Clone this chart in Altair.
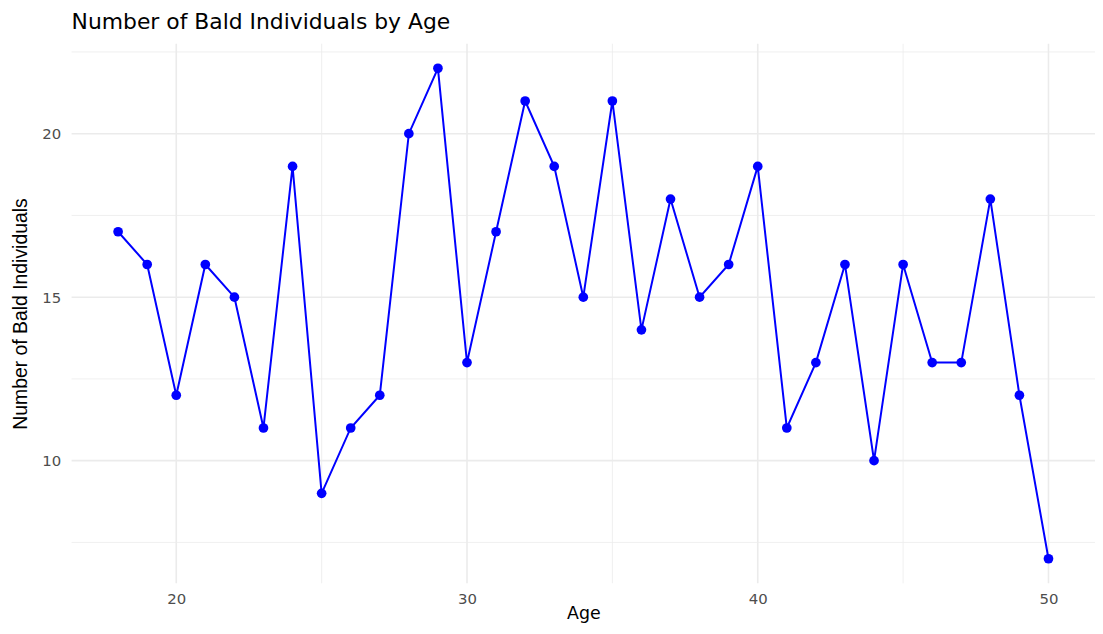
import altair as alt
import pandas as pd

ages = list(range(18, 51))
counts = [17, 16, 12, 16, 15, 11, 19, 9, 11, 12, 20, 22, 13, 17, 21, 19, 15,
          21, 14, 18, 15, 16, 19, 11, 13, 16, 10, 16, 13, 13, 18, 12, 7]

x_major = [20, 30, 40, 50]
x_minor = [25, 35, 45]
y_major = [10, 15, 20]
y_minor = [7.5, 12.5, 17.5, 22.5]

df = pd.DataFrame({"Age": ages, "Count": counts})

FONT = "Liberation Sans"
WFONT = "DejaVu Sans"
xs = alt.Scale(domain=[16.4, 51.6], nice=False, zero=False)
ys = alt.Scale(domain=[6.25, 22.75], nice=False, zero=False)

grid_x_minor = alt.Chart(pd.DataFrame({"v": x_minor})).mark_rule(color="#ebebeb", strokeWidth=0.8).encode(
    x=alt.X("v:Q", scale=xs))
grid_x_major = alt.Chart(pd.DataFrame({"v": x_major})).mark_rule(color="#ebebeb", strokeWidth=1.6).encode(
    x=alt.X("v:Q", scale=xs))
grid_y_minor = alt.Chart(pd.DataFrame({"v": y_minor})).mark_rule(color="#ebebeb", strokeWidth=0.8).encode(
    y=alt.Y("v:Q", scale=ys))
grid_y_major = alt.Chart(pd.DataFrame({"v": y_major})).mark_rule(color="#ebebeb", strokeWidth=1.6).encode(
    y=alt.Y("v:Q", scale=ys))

base = alt.Chart(df).encode(
    x=alt.X("Age:Q", scale=xs, title="Age",
            axis=alt.Axis(values=x_major, grid=False, ticks=False, domain=False,
                          labelFont=WFONT, labelFontSize=15, labelColor="#4d4d4d", labelPadding=8,
                          titleFont=WFONT, titleFontSize=17.5, titleFontWeight="normal",
                          titleColor="#000000", titleBaseline="alphabetic", titleY=35)),
    y=alt.Y("Count:Q", scale=ys, title="Number of Bald Individuals",
            axis=alt.Axis(values=y_major, grid=False, ticks=False, domain=False,
                          labelFont=WFONT, labelFontSize=15, labelColor="#4d4d4d", labelPadding=11,
                          titleFont=FONT, titleFontSize=19.5, titleFontWeight="normal",
                          titleColor="#000000", titlePadding=11)),
)

line = base.mark_line(color="#0000ff", strokeWidth=2)
pts = base.mark_circle(color="#0000ff", size=95, opacity=1)

chart = alt.layer(grid_x_minor, grid_x_major, grid_y_minor, grid_y_major, line, pts).properties(
    width=1030, height=543,
    title=alt.TitleParams("Number of Bald Individuals by Age", anchor="start", frame="group",
                          font=WFONT, fontSize=22, fontWeight="normal", color="#000000", offset=9),
    autosize=alt.AutoSizeParams(type="none"),
    padding={"left": 64, "top": 34, "right": 0, "bottom": 41},
).configure_view(stroke=None)

chart.save("out.html", embed_options={"renderer": "svg", "actions": False})
